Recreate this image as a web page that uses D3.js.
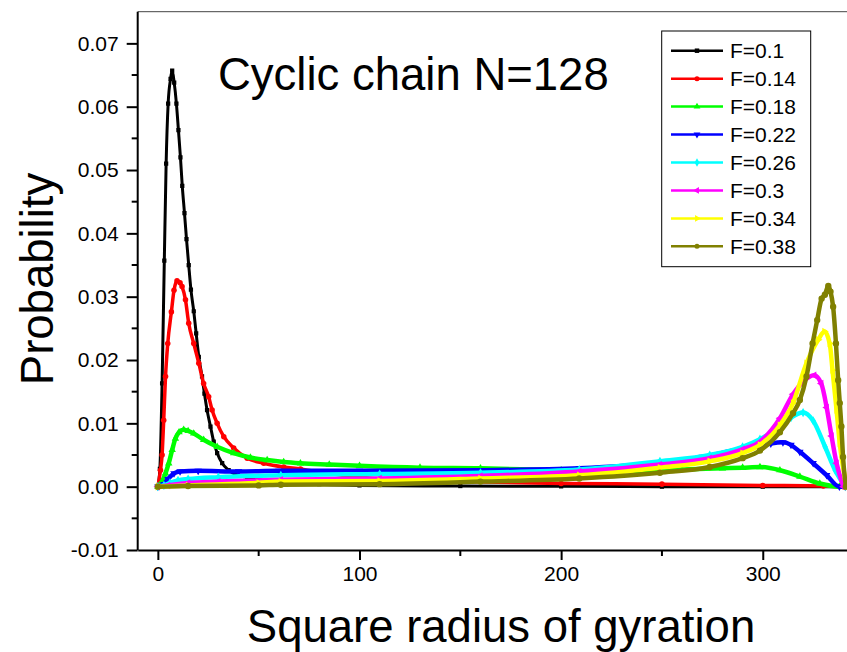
<!DOCTYPE html>
<html>
<head>
<meta charset="utf-8">
<script src="https://cdn.jsdelivr.net/npm/d3@7"></script>
<style>
  html, body { margin: 0; padding: 0; background: #fff; }
  svg { display: block; font-family: "Liberation Sans", Arial, sans-serif; }
</style>
</head>
<body>
<svg id="chart" width="847" height="652"></svg>
<script>
// ---------------- data ----------------
const seriesLabels = ["F=0.1", "F=0.14", "F=0.18", "F=0.22", "F=0.26", "F=0.3", "F=0.34", "F=0.38"];
const seriesColors = ["#000000", "#ff0000", "#00ff00", "#0000ff", "#00ffff", "#ff00ff", "#ffff00", "#808000"];

const xF010 = [0,1,2.1,3.2,4.1,5.1,6.3,7.1,8.1,9.2,10.2,11.2,12.1,13.2,14.2,15.3,16.4,17.8,19,20.3,21.9,23.1,24.4,26.1,27.7,29.4,31.9,35.1,39.3,44.3,50,60,80,100,150,200,250,300,340];
const pF010 = [0,0.0028,0.0163,0.0357,0.0510,0.0605,0.0644,0.0657,0.0638,0.0605,0.0563,0.0520,0.0475,0.0432,0.0391,0.0350,0.0311,0.0277,0.0242,0.0205,0.0174,0.0147,0.0121,0.0095,0.0071,0.0053,0.0037,0.0026,0.0018,0.0015,0.0012,0.0008,0.0004,0.0002,0.0001,0.00005,0,0,0];

const xF014 = [0,1.3,2.1,2.9,3.8,4.9,6.7,8,9.5,11,12,13.7,15.3,17.8,20.3,22.7,25.2,26.9,29.4,32.7,37.6,44.3,52.5,62.4,70.7,80,100,120,150,200,250,300,330,340];
const pF014 = [0,0.0026,0.0050,0.0105,0.0174,0.0226,0.0276,0.0310,0.0325,0.0322,0.0316,0.0295,0.0258,0.0226,0.0195,0.0163,0.0142,0.0121,0.0100,0.0079,0.0061,0.0045,0.0037,0.0031,0.0028,0.0023,0.0015,0.0011,0.0008,0.0005,0.0004,0.0002,0.0001,0];

const xF018 = [0,2.1,3.8,5.4,7.1,8.7,10.5,12.8,15,17.8,22.7,29.4,37.6,45.9,54.2,62.4,70.7,85,100,130,160,200,230,260,280,290,298.6,308.5,318.4,328.3,338,341];
const pF018 = [0,0.0008,0.0021,0.0037,0.0058,0.0076,0.0086,0.0090,0.0088,0.0084,0.0074,0.0063,0.0053,0.0046,0.0042,0.0039,0.0037,0.0035,0.0033,0.0030,0.0029,0.0026,0.0025,0.0027,0.0029,0.0030,0.0031,0.0026,0.0016,0.0005,0,0];

const xF022 = [0,3,5,8,11,20,40,60,100,160,209,250,270,288.6,298.6,304,310,314,318.4,325,331.7,338,341];
const pF022 = [0,0.0004,0.0012,0.0021,0.0024,0.0025,0.0024,0.0025,0.0025,0.0026,0.0029,0.0038,0.0047,0.0059,0.0064,0.0068,0.0070,0.0066,0.0055,0.0037,0.0018,0,0];

const xF026 = [0,3,6,10,15,30,61,110,160,209,249,273.7,290,298.6,308.5,314,320,325,330.9,335.9,340.9];
const pF026 = [0,0.0002,0.0006,0.0010,0.0012,0.0015,0.0018,0.0020,0.0022,0.0027,0.0040,0.0050,0.0063,0.0075,0.0094,0.0109,0.0117,0.0104,0.0063,0.0026,0];

const xF030 = [0,5,15,30,61,110,160,209,249,273.7,290,298.6,308.5,315,320,325.5,329,331.7,334.1,336.6,340];
const pF030 = [0,0.0002,0.0006,0.0008,0.0011,0.0013,0.0017,0.0024,0.0035,0.0045,0.0059,0.0071,0.0108,0.0146,0.0166,0.0176,0.0163,0.0125,0.0080,0.0037,0];

const xF034 = [0,15,50,61,110,160,209,249,273.7,290,298.6,308.5,315,321.7,327.5,330.6,333.2,334.6,336.6,338.2,340.7,342];
const pF034 = [0,0.0002,0.0006,0.0008,0.0009,0.0013,0.0018,0.0030,0.0040,0.0053,0.0066,0.0097,0.0132,0.0195,0.0232,0.0245,0.0226,0.0184,0.0121,0.0068,0.0016,0];

const xF038 = [0,15,50,61,110,160,209,249,273.7,290,298.6,308.5,315,318.4,321.7,324.7,327,329.2,330.8,332.5,333.6,334.9,336.3,337.4,338.2,339,339.8,341.2];
const pF038 = [0,0.0001,0.0002,0.0003,0.0004,0.0008,0.0013,0.0022,0.0031,0.0045,0.0057,0.0086,0.0116,0.0137,0.0174,0.0226,0.0263,0.0297,0.0303,0.0317,0.0308,0.0284,0.0226,0.0168,0.0132,0.0095,0.0047,0];

const xTicks = [0, 100, 200, 300];
const xMinorTicks = [50, 150, 250];
const yTicks = [-0.01, 0.00, 0.01, 0.02, 0.03, 0.04, 0.05, 0.06, 0.07];
const yTickLabels = ["-0.01", "0.00", "0.01", "0.02", "0.03", "0.04", "0.05", "0.06", "0.07"];
const yMinorTicks = [-0.005, 0.005, 0.015, 0.025, 0.035, 0.045, 0.055, 0.065];

const titleText = "Cyclic chain N=128";
const xTitle = "Square radius of gyration";
const yTitle = "Probability";

const seriesX = [xF010, xF014, xF018, xF022, xF026, xF030, xF034, xF038];
const seriesP = [pF010, pF014, pF018, pF022, pF026, pF030, pF034, pF038];

// ---------------- chart ----------------
const svg = d3.select("#chart");
const plotL = 137.7, plotR = 853.5, plotT = 11.7, plotB = 550;

const x = d3.scaleLinear().domain([-10, 345]).range([plotL, plotR]);
const y = d3.scaleLinear().domain([-0.01, 0.075]).range([plotB, plotT]);

// frame top line
svg.append("line").attr("x1", plotL).attr("x2", 847).attr("y1", plotT).attr("y2", plotT)
  .attr("stroke", "#444").attr("stroke-width", 1);

// clip for data
svg.append("defs").append("clipPath").attr("id", "clip")
  .append("rect").attr("x", plotL).attr("y", plotT).attr("width", plotR - plotL).attr("height", plotB - plotT);

const symbolTypes = [
  {t: d3.symbolSquare, r: 0, s: 18},
  {t: d3.symbolCircle, r: 0, s: 24},
  {t: d3.symbolTriangle, r: 0, s: 24},
  {t: d3.symbolTriangle, r: 180, s: 24},
  {t: d3.symbolDiamond, r: 0, s: 24},
  {t: d3.symbolTriangle, r: -90, s: 24},
  {t: d3.symbolTriangle, r: 90, s: 24},
  {t: d3.symbolCircle, r: 0, s: 32}
];
const lineWidths = [3, 3.5, 4.5, 4.5, 4.5, 4.5, 4.5, 4.5];

const line = d3.line().x(d => x(d[0])).y(d => y(d[1])).curve(d3.curveMonotoneX);
const gData = svg.append("g").attr("clip-path", "url(#clip)");

seriesX.forEach((xs, i) => {
  const pts = xs.map((v, j) => [v, seriesP[i][j]]);
  const g = gData.append("g");
  g.append("path").datum(pts).attr("d", line)
    .attr("fill", "none").attr("stroke", seriesColors[i])
    .attr("stroke-width", lineWidths[i])
    .attr("stroke-linejoin", "round");
  const sym = d3.symbol().type(symbolTypes[i].t).size(symbolTypes[i].s);
  g.selectAll("path.m").data(pts).enter().append("path").attr("class", "m")
    .attr("d", sym)
    .attr("transform", d => `translate(${x(d[0])},${y(d[1])}) rotate(${symbolTypes[i].r})`)
    .attr("fill", seriesColors[i]);
});

// axes
const xAxis = d3.axisBottom(x).tickValues(xTicks).tickSize(10).tickSizeOuter(0).tickPadding(6);
const gx = svg.append("g").attr("transform", `translate(0,${plotB})`).call(xAxis);
gx.select(".domain").attr("stroke-width", 2);
gx.selectAll(".tick line").attr("stroke-width", 2);
gx.selectAll(".tick text").attr("font-size", 21).attr("fill", "#000")
  .attr("font-family", "Liberation Sans, Arial, sans-serif");
gx.selectAll(".minor").data(xMinorTicks).enter().append("line")
  .attr("x1", d => x(d)).attr("x2", d => x(d)).attr("y1", 0).attr("y2", 6)
  .attr("stroke", "#000").attr("stroke-width", 2);

const yAxis = d3.axisLeft(y).tickValues(yTicks).tickFormat((d, i) => yTickLabels[i])
  .tickSize(11).tickSizeOuter(0).tickPadding(8);
const gy = svg.append("g").attr("transform", `translate(${plotL},0)`).call(yAxis);
gy.select(".domain").attr("d", `M0,${plotB}V${plotT}`).attr("stroke-width", 2);
gy.selectAll(".tick line").attr("stroke-width", 2);
gy.selectAll(".tick text").attr("font-size", 21).attr("fill", "#000")
  .attr("font-family", "Liberation Sans, Arial, sans-serif");
gy.selectAll(".minor").data(yMinorTicks).enter().append("line")
  .attr("x1", -6).attr("x2", 0).attr("y1", d => y(d)).attr("y2", d => y(d))
  .attr("stroke", "#000").attr("stroke-width", 2);

// titles
svg.append("text").attr("x", 218).attr("y", 90).attr("font-size", 45.5).attr("fill", "#000")
  .text(titleText);
svg.append("text").attr("x", 501).attr("y", 642).attr("text-anchor", "middle")
  .attr("font-size", 45.5).attr("fill", "#000").text(xTitle);
svg.append("text").attr("transform", "translate(53,279) rotate(-90)").attr("text-anchor", "middle")
  .attr("font-size", 45.5).attr("fill", "#000").text(yTitle);

// legend
const lg = svg.append("g");
lg.append("rect").attr("x", 661.7).attr("y", 31).attr("width", 149).attr("height", 235.7)
  .attr("fill", "#fff").attr("stroke", "#000").attr("stroke-width", 1);
seriesLabels.forEach((lab, i) => {
  const cy = 50.7 + i * 27.95;
  lg.append("line").attr("x1", 671).attr("x2", 723).attr("y1", cy).attr("y2", cy)
    .attr("stroke", seriesColors[i]).attr("stroke-width", 2.5);
  lg.append("path").attr("d", d3.symbol().type(symbolTypes[i].t).size(20)())
    .attr("transform", `translate(697,${cy}) rotate(${symbolTypes[i].r})`)
    .attr("fill", seriesColors[i]);
  lg.append("text").attr("x", 730).attr("y", cy).attr("dy", "0.36em")
    .attr("font-size", 21).attr("fill", "#000").text(lab);
});
</script>
</body>
</html>
